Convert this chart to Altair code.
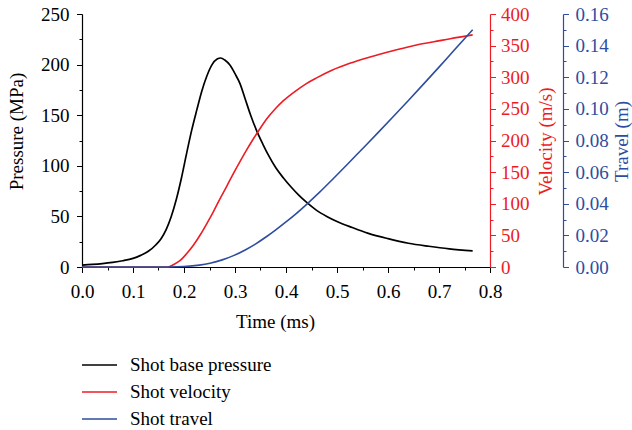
import altair as alt
import pandas as pd

# Ballistic history: base pressure, shot velocity and shot travel against time
pressure_time = [0.000, 0.020, 0.040, 0.060, 0.080, 0.100, 0.115, 0.130, 0.145, 0.155,
                 0.165, 0.175, 0.185, 0.195, 0.205, 0.215, 0.225, 0.235, 0.245, 0.255,
                 0.265, 0.272, 0.280, 0.290, 0.300, 0.310, 0.320, 0.330, 0.343, 0.355,
                 0.365, 0.380, 0.395, 0.410, 0.425, 0.440, 0.460, 0.480, 0.500, 0.530,
                 0.560, 0.600, 0.640, 0.680, 0.720, 0.766]
pressure_mpa = [1.8, 2.5, 3.4, 4.6, 6.2, 8.5, 11.5, 15.5, 22, 28,
                37, 50, 67, 88, 112, 135, 155, 174, 189, 200,
                205.5, 206.5, 204.5, 199.5, 191, 181, 166, 151, 134, 121,
                111, 98, 88, 79, 71, 64, 56, 50, 45, 39,
                33.5, 28, 23.5, 20.5, 18, 16]

velocity_time = [0.000, 0.168, 0.180, 0.192, 0.205, 0.218, 0.232, 0.245, 0.258, 0.270,
                 0.284, 0.297, 0.310, 0.322, 0.334, 0.346, 0.362, 0.380, 0.395, 0.420,
                 0.440, 0.460, 0.490, 0.525, 0.560, 0.591, 0.625, 0.656, 0.690, 0.722,
                 0.766]
velocity_ms = [0, 0, 4, 10, 21, 34, 51, 69, 88, 107,
               128, 148, 167, 184, 200, 215, 234, 251, 263, 279,
               290, 299, 311, 322, 331, 338, 345, 351, 356, 361,
               367]

travel_time = [0.000, 0.168, 0.200, 0.230, 0.251, 0.275, 0.297, 0.320, 0.340, 0.360,
               0.380, 0.400, 0.420, 0.440, 0.465, 0.493, 0.520, 0.550, 0.580, 0.610,
               0.640, 0.670, 0.700, 0.730, 0.766]
travel_m = [0.0, 0.0, 0.0003, 0.0012, 0.0024, 0.0045, 0.0072, 0.0108, 0.0145, 0.0188,
            0.0235, 0.0285, 0.0338, 0.0395, 0.0470, 0.0560, 0.0648, 0.0748, 0.0848, 0.0950,
            0.1053, 0.1158, 0.1264, 0.1372, 0.1500]

series_names = ["Shot base pressure", "Shot velocity", "Shot travel"]
series_colors = ["#000000", "#ED1C24", "#2E4D9F"]

# Axis tick values (major and minor)
time_ticks = [0.0, 0.1, 0.2, 0.3, 0.4, 0.5, 0.6, 0.7, 0.8]
time_minor = [0.05, 0.15, 0.25, 0.35, 0.45, 0.55, 0.65, 0.75]
pressure_ticks = [0, 50, 100, 150, 200, 250]
pressure_minor = [25, 75, 125, 175, 225]
velocity_ticks = [0, 50, 100, 150, 200, 250, 300, 350, 400]
velocity_minor = [25, 75, 125, 175, 225, 275, 325, 375]
travel_ticks = [0.00, 0.02, 0.04, 0.06, 0.08, 0.10, 0.12, 0.14, 0.16]
travel_minor = [0.01, 0.03, 0.05, 0.07, 0.09, 0.11, 0.13, 0.15]

FONT = "Liberation Serif"
FS = 19
BLACK, RED, BLUE = series_colors


def frame(times, values, name):
    return pd.DataFrame({"time": times, "value": values, "series": name})


df_p = frame(pressure_time, pressure_mpa, series_names[0])
df_v = frame(velocity_time, velocity_ms, series_names[1])
df_t = frame(travel_time, travel_m, series_names[2])

x_scale = alt.Scale(domain=[0, 0.8], nice=False, zero=False)

# Long horizontal legend stroke: a custom path twice the unit box, so the
# entry height stays at the label size
color = alt.Color(
    "series:N",
    scale=alt.Scale(domain=series_names, range=series_colors),
    legend=alt.Legend(
        title=None, orient="none", legendX=0, legendY=341.5, padding=0,
        symbolType="M-2,0L2,0", symbolSize=306.25, symbolStrokeWidth=1.5,
        symbolOffset=8,
        labelFont=FONT, labelFontSize=FS, labelColor="black",
        labelOffset=21, rowPadding=7,
    ),
)


def major_axis(orient, values, fmt, col, title, title_x, title_y, label_pad, offset=0):
    return alt.Axis(
        orient=orient, values=values, format=fmt, offset=offset,
        domainColor=col, tickColor=col, labelColor=col, titleColor=col,
        tickSize=5.5, labelPadding=label_pad, title=title,
        titleX=title_x, titleY=title_y, titleAngle=270,
        titleBaseline="middle", titleAlign="center",
    )


def minor_axis(orient, values, col, offset=0):
    return alt.Axis(
        orient=orient, values=values, labels=False, domain=False,
        tickColor=col, tickSize=3, title=None, offset=offset,
    )


# Time axis, repeated identically in every layer so the shared axes merge
x_major = alt.Axis(
    orient="bottom", values=time_ticks, format=".1f", title="Time (ms)",
    domainColor=BLACK, tickColor=BLACK, labelColor=BLACK, titleColor=BLACK,
    tickSize=5.5, labelPadding=18.5, labelBaseline="middle",
    titleX=193, titleY=54.5, titleBaseline="middle", titleAlign="center",
)
x_minor = minor_axis("bottom", time_minor, BLACK)


def series_layer(df, domain, axis_major, axis_minor, width):
    y_scale = alt.Scale(domain=domain, nice=False, zero=False)
    line = alt.Chart(df).mark_line(strokeWidth=width, interpolate="monotone").encode(
        x=alt.X("time:Q", scale=x_scale, axis=x_major),
        y=alt.Y("value:Q", scale=y_scale, axis=axis_major),
        color=color,
    )
    ghost = alt.Chart(df).mark_line(opacity=0).encode(
        x=alt.X("time:Q", scale=x_scale, axis=x_minor),
        y=alt.Y("value:Q", scale=y_scale, axis=axis_minor),
    )
    return alt.layer(line, ghost).resolve_axis(x="independent", y="independent")


pressure_layer = series_layer(
    df_p, [0, 250],
    major_axis("left", pressure_ticks, "d", BLACK, "Pressure (MPa)", -66, 117, 7.5),
    minor_axis("left", pressure_minor, BLACK),
    1.7,
)
velocity_layer = series_layer(
    df_v, [0, 400],
    major_axis("right", velocity_ticks, "d", RED, "Velocity (m/s)", 55, 127, 5),
    minor_axis("right", velocity_minor, RED),
    1.6,
)
travel_layer = series_layer(
    df_t, [0, 0.16],
    major_axis("right", travel_ticks, ".2f", BLUE, "Travel (m)", 58, 127, 6.5, offset=73),
    minor_axis("right", travel_minor, BLUE, offset=73),
    1.6,
)

chart = (
    alt.layer(pressure_layer, velocity_layer, travel_layer)
    .resolve_scale(y="independent")
    .properties(
        width=408, height=253,
        padding={"left": 82, "top": 14, "right": 142, "bottom": 163},
        autosize=alt.AutoSizeParams(type="none"),
        background="white",
    )
    .configure_axis(
        labelFont=FONT, titleFont=FONT, labelFontSize=FS, titleFontSize=FS,
        titleFontWeight="normal", grid=False, domainWidth=1.2, tickWidth=1,
        labelFlush=False, labelOverlap=False,
    )
    .configure_view(stroke=None)
)

chart.save("out.html", embed_options={"renderer": "svg", "actions": False})
